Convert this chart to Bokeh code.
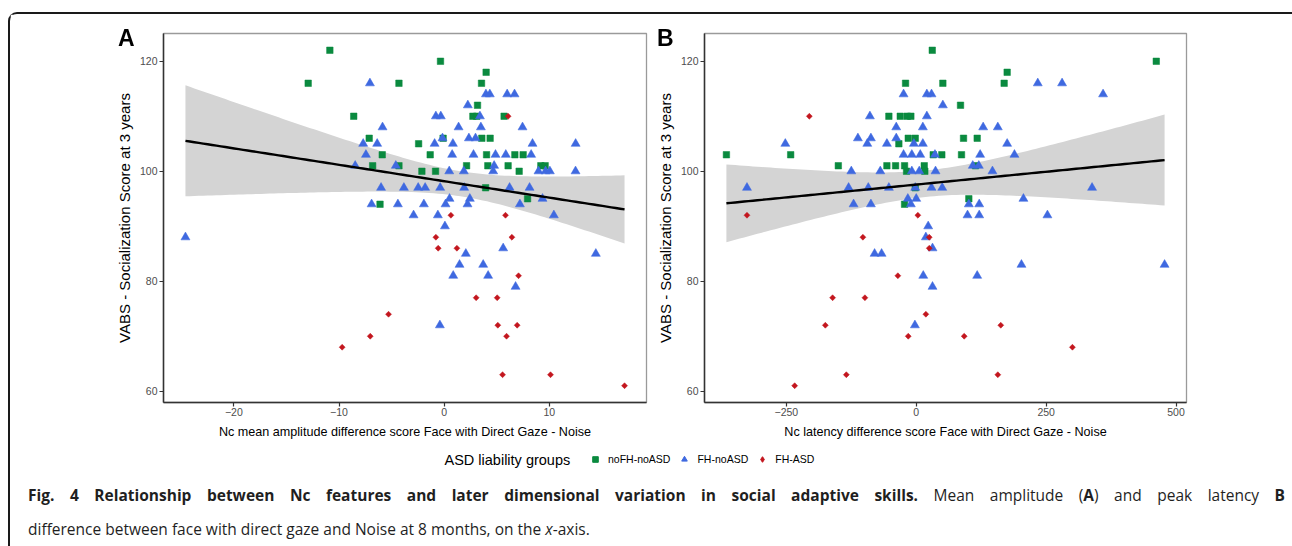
import numpy as np
from bokeh.plotting import figure
from bokeh.models import Range1d, FixedTicker, Label, Legend, LegendItem, Div
from bokeh.layouts import row, column
from bokeh.embed import file_html
from bokeh.resources import INLINE

groups = ["noFH-noASD", "FH-noASD", "FH-ASD"]
colors = ["#0A8A3F", "#3F69E0", "#C3161E"]
panel_letters = ["A", "B"]

# ---------------- Panel A: Nc mean amplitude difference ----------------
a_g_x = [-10.87, -12.93, -4.3, -8.6, -7.13, -5.89, -6.8, -4.3, -6.1, -0.35, 3.99, 3.55, 3.17, 2.73, 3.1,
         5.7, -0.1, 3.58, 4.37, -2.43, -1.33, 4.03, 6.72, 7.51, 2.13, 4.15, 6.08, 9.19, 9.6, -2.12, -0.82,
         7.13, 3.94, 7.93]
a_g_y = [122, 116, 116, 110, 106, 103, 101, 101, 94, 120, 118, 116, 112, 110, 110,
         110, 106, 106, 106, 105, 103, 103, 103, 103, 101, 101, 101, 101, 101, 100, 100,
         100, 97, 95]
a_b_x = [-7.06, -5.86, -7.7, -6.37, -7.44, -8.46, -4.6, -6.0, -6.9, -4.4, -24.6,
         3.97, 4.34, 5.99, 6.69, 2.25, -0.79, -0.32, 3.4, 1.37, 3.49, 7.45, -0.16, 2.35, 2.98,
         -0.91, 0.83, 8.4, 12.5, 0.76, 2.79, 4.88, 5.86, 8.27, 4.75, 0.48, 1.87, 4.66, 8.97,
         9.64, 10.05, 12.49, -3.83, -2.47, -1.81, -0.38, 1.9, 6.22, 8.12, 9.35, 0.51, 2.44,
         -1.93, 0.13, 2.22, 7.2, -2.91, -0.6, 10.43,
         0.07, 5.61, 2.06, 14.42, 1.46, 3.71, 0.86, 4.18, 6.79, -0.41]
a_b_y = [116, 108, 105, 105, 103, 101, 101, 97, 94, 94, 88,
         114, 114, 114, 114, 112, 110, 110, 110, 108, 108, 108, 106, 106, 106,
         105, 105, 105, 105, 103, 103, 103, 103, 103, 101, 100, 100, 100, 100,
         100, 100, 100, 97, 97, 97, 97, 97, 97, 97, 95, 95, 95,
         94, 94, 94, 94, 92, 92, 92,
         90, 86, 85, 85, 83, 83, 81, 81, 79, 72]
a_r_x = [-9.7, -7.03, -5.29, 0.64, 5.83, -0.79, 6.44, -0.57, 1.21, 7.07, 3.04, 5.04, 5.1, 6.94,
         5.93, 5.55, 10.11, 17.15, 6.08]
a_r_y = [68, 70, 74, 92, 92, 88, 88, 86, 86, 81, 77, 77, 72, 72, 70, 63, 63, 61, 110]

# ---------------- Panel B: Nc latency difference ----------------
b_g_x = [30.8, -20.6, 51.2, -52.7, -30.8, -17.3, -10.4, -15.4, -1.9, -33.5, -365.4, -241.7, 32.7,
         49.2, -150, -56.5, -39.8, -22.5, -18.7, 15.4, 16.5, -1.9, -22.5, 462, 175, 169.2, 85.2,
         91, 117.3, 87.1, 114, 101.2]
b_g_y = [122, 116, 116, 110, 110, 110, 110, 106, 106, 105, 103, 103, 103,
         103, 101, 101, 101, 101, 100, 101, 100, 97, 94, 120, 118, 116, 112,
         106, 106, 103, 101, 95]
b_b_x = [-24.4, 20.4, 29.4, 51.2, -89.2, 20.4, -38.5, 12.7, -112.3, -87.3, -38.5, -94.2, -56.5,
         -4.6, 12.7, -252, -24.4, -8.5, 7.7, 36, -69.2, -8.5, 5.8, 37.1, -125, -325.8, -130.2,
         -92.3, -52.7, -1.9, 29.4, 50, -16.2, 0, -120.6, -87.3, -10.4,
         23, 18.5, 31.3, -80.2, -66.7, 13.5, 31.3, -2.6,
         233.9, 280.7, 359.6, 128.8, 157, 175, 123, 189, 108.8, 120.4, 146.7, 338.4, 101.2,
         121.2, 206.3, 98.7, 121.2, 252.5,
         202.5, 478, 117.3]
b_b_y = [114, 114, 114, 112, 110, 110, 108, 108, 106, 106, 106, 105, 105,
         105, 105, 105, 103, 103, 103, 103, 100, 100, 100, 100, 100, 97, 97,
         97, 97, 97, 97, 97, 95, 95, 94, 94, 94,
         90, 88, 86, 85, 85, 81, 79, 72,
         116, 116, 114, 108, 108, 105, 103, 103, 101, 101, 100, 97, 94,
         94, 95, 92, 92, 92,
         83, 83, 81]
b_r_x = [-205.8, -325.8, 3.1, -102.7, 25, 25, -35.4, -161, -98.8, 18.5, -175, 162.7, -15.4, 92.3,
         300.6, -134.6, 157, -234]
b_r_y = [110, 92, 92, 88, 88, 86, 81, 77, 77, 74, 72, 72, 70, 70, 68, 63, 63, 61]

y_ticks = [60, 80, 100, 120]
a_x_ticks = [-20, -10, 0, 10]
b_x_ticks = [-250, 0, 250, 500]
y_label = "VABS - Socialization Score at 3 years"
a_x_label = "Nc mean amplitude difference score Face with Direct Gaze - Noise"
b_x_label = "Nc latency difference score Face with Direct Gaze - Noise"
legend_title = "ASD liability groups"

FONT = "Liberation Sans"
PANEL_H = 431


def lm_band(xs, ys, n_pts=100, t=1.98):
    x = np.asarray(xs, float)
    y = np.asarray(ys, float)
    n = len(x)
    b1, b0 = np.polyfit(x, y, 1)
    res = y - (b0 + b1 * x)
    s = np.sqrt(np.sum(res ** 2) / (n - 2))
    xbar = x.mean()
    sxx = np.sum((x - xbar) ** 2)
    gx = np.linspace(x.min(), x.max(), n_pts)
    gy = b0 + b1 * gx
    se = s * np.sqrt(1.0 / n + (gx - xbar) ** 2 / sxx)
    return gx, gy, gy - t * se, gy + t * se


def expand(vals):
    lo, hi = min(vals), max(vals)
    pad = 0.05 * (hi - lo)
    return Range1d(lo - pad, hi + pad)


def make_panel(gx, gy, bx, by, rx, ry, xticks, xlabel, width, mbl, mbr):
    allx = gx + bx + rx
    ally = gy + by + ry
    p = figure(width=width, height=PANEL_H, x_range=expand(allx), y_range=expand(ally),
               output_backend="svg", toolbar_location=None,
               min_border_left=mbl, min_border_right=mbr, min_border_top=19, min_border_bottom=43)
    p.background_fill_color = "white"
    p.border_fill_color = "white"
    p.outline_line_color = "#9a9a9a"
    p.outline_line_width = 1.3
    p.grid.visible = False

    fx, fy, lo, hi = lm_band(allx, ally)
    p.varea(x=fx, y1=lo, y2=hi, fill_color="#D4D4D4", fill_alpha=1.0)

    p.scatter(gx, gy, marker="square", size=6.5, fill_color=colors[0], line_color=colors[0], line_width=0.5)
    p.scatter(bx, by, marker="triangle", size=9, fill_color=colors[1], line_color=colors[1], line_width=0.5)
    p.scatter(rx, ry, marker="square", angle=np.pi / 4, size=4.2, fill_color=colors[2],
              line_color=colors[2], line_width=0.5)

    p.line(fx, fy, line_color="black", line_width=2.4)

    for ax in (p.xaxis, p.yaxis):
        ax.axis_line_color = "#333333"
        ax.axis_line_width = 1.5
        ax.major_tick_line_color = "#333333"
        ax.major_tick_line_width = 1.2
        ax.major_tick_in = 0
        ax.major_tick_out = 4
        ax.minor_tick_line_color = None
        ax.major_label_text_font = FONT
        ax.major_label_text_font_size = "10.5px"
        ax.major_label_text_color = "#4D4D4D"
        ax.axis_label_text_font = FONT
        ax.axis_label_text_font_style = "normal"
        ax.axis_label_text_color = "black"
    p.xaxis.ticker = FixedTicker(ticks=xticks)
    p.yaxis.ticker = FixedTicker(ticks=y_ticks)
    p.xaxis.axis_label = xlabel
    p.yaxis.axis_label = y_label
    p.xaxis.axis_label_text_font_size = "12.6px"
    p.yaxis.axis_label_text_font_size = "15px"
    p.xaxis.major_label_standoff = 1
    p.yaxis.major_label_standoff = 2
    p.xaxis.axis_label_standoff = 6
    p.yaxis.axis_label_standoff = 4
    return p


pA = make_panel(a_g_x, a_g_y, a_b_x, a_b_y, a_r_x, a_r_y, a_x_ticks, a_x_label, 640, 153, 4)
pB = make_panel(b_g_x, b_g_y, b_b_x, b_b_y, b_r_x, b_r_y, b_x_ticks, b_x_label, 638, 54, 102)

# ---------------- shared legend ----------------
LEG_W = 1278
pl = figure(width=LEG_W, height=30, x_range=Range1d(0, LEG_W), y_range=Range1d(0, 30),
            output_backend="svg", toolbar_location=None, x_axis_location=None,
            y_axis_location=None, min_border=0)
pl.outline_line_color = None
pl.grid.visible = False
pl.background_fill_color = "white"
pl.border_fill_color = "white"
# key renderers (hidden; only their legend glyphs are shown)
r1 = pl.scatter(a_g_x, a_g_y, marker="square", fill_color=colors[0], line_color=colors[0], visible=False)
r2 = pl.scatter(a_b_x, a_b_y, marker="triangle", fill_color=colors[1], line_color=colors[1], visible=False)
r3 = pl.scatter(a_r_x, a_r_y, marker="diamond", fill_color=colors[2], line_color=colors[2], visible=False)
leg = Legend(items=[LegendItem(label=groups[0], renderers=[r1]),
                    LegendItem(label=groups[1], renderers=[r2]),
                    LegendItem(label=groups[2], renderers=[r3])],
             orientation="horizontal", location=(578, 9))
leg.border_line_color = None
leg.background_fill_alpha = 0
leg.inactive_fill_alpha = 0
leg.padding = 0
leg.margin = 0
leg.spacing = 7
leg.glyph_width = 14
leg.glyph_height = 14
leg.label_standoff = 6
leg.label_text_font = FONT
leg.label_text_font_size = "10.5px"
leg.label_text_color = "black"
pl.add_layout(leg)
pl.add_layout(Label(x=434, y=16, text=legend_title, text_font=FONT, text_font_size="14.5px",
                    text_color="black", text_baseline="middle", text_align="left"))

# ---------------- caption (+ panel letters, pinned to the top-left of each panel) ----------------
letter_css = "position:fixed;font:bold 23px/23px 'Liberation Sans',Arial,sans-serif;color:#000;"
letters_html = (
    "<div style=\"" + letter_css + "left:118px;top:27px;\">" + panel_letters[0] + "</div>"
    "<div style=\"" + letter_css + "left:657px;top:27px;\">" + panel_letters[1] + "</div>"
)
cap_line1 = ("<b>Fig. 4 Relationship between Nc features and later dimensional variation in social "
             "adaptive skills.</b> Mean amplitude (<b>A</b>) and peak latency <b>B</b>")
cap_line2 = "difference between face with direct gaze and Noise at 8 months, on the <i>x</i>-axis."
cap_html = (
    letters_html +
    "<div style=\"box-sizing:border-box;font-family:'Open Sans';font-size:15.5px;color:#1f1f1f;"
    "line-height:34px;margin-top:-2px;padding-left:13px;width:1270px;\">"
    "<div style=\"text-align:justify;text-align-last:justify;white-space:nowrap;\">" + cap_line1 + "</div>"
    "<div style=\"text-align:left;white-space:nowrap;\">" + cap_line2 + "</div></div>"
)
cap = Div(text=cap_html, width=LEG_W, height=70)

layout = column(row(pA, pB), pl, cap,
                styles={"border": "2px solid #1a1a1a", "border-bottom": "none",
                        "border-radius": "9px 9px 0 0", "margin-top": "12px",
                        "margin-left": "8px", "background-color": "white"})

open("out.html", "w").write(file_html(layout, INLINE))
